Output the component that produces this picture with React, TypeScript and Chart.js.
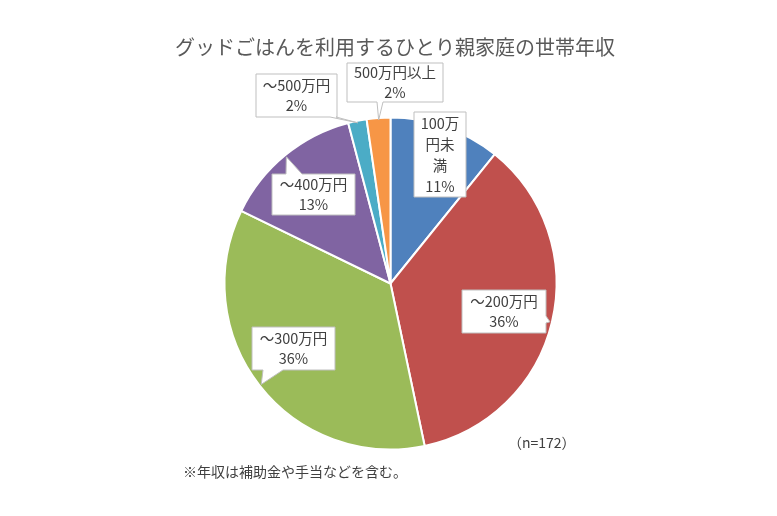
import React, { useEffect, useRef } from "react";
import { Chart, registerables } from "chart.js";

Chart.register(...registerables);

const TITLE = "グッドごはんを利用するひとり親家庭の世帯年収";
const categories = ["100万円未満", "～200万円", "～300万円", "～400万円", "～500万円", "500万円以上"];
const shares = [10.8, 35.9, 35.5, 13.7, 1.8, 2.3];
const pctLabels = ["11%", "36%", "36%", "13%", "2%", "2%"];
const labelLines = [
  ["100万", "円未", "満", pctLabels[0]],
  ["～200万円", pctLabels[1]],
  ["～300万円", pctLabels[2]],
  ["～400万円", pctLabels[3]],
  ["～500万円", pctLabels[4]],
  ["500万円以上", pctLabels[5]],
];
const colors = ["#4F81BD", "#C0504D", "#9BBB59", "#8064A2", "#4BACC6", "#F79646"];
const NOTE_N = "（n=172）";
const FOOTNOTE = "※年収は補助金や手当などを含む。";

// label box layout: centre offset from pie centre, size, wedge side & base offsets along edge
const boxLayout = [
  { dx: 49.5, dy: -129, w: 52, h: 85, side: "none", a: 0, b: 0 },
  { dx: 113.5, dy: 28, w: 84, h: 43, side: "right", a: 26, b: 33 },
  { dx: -97, dy: 65, w: 83, h: 43, side: "bottom", a: 11, b: 31 },
  { dx: -77, dy: -89, w: 83, h: 41, side: "top", a: 14, b: 30 },
  { dx: -94, dy: -188, w: 81, h: 43, side: "bottom", a: 74, b: 80 },
  { dx: 4.5, dy: -201, w: 96, h: 39, side: "bottom", a: 30, b: 36 },
];

const FONT = '"Noto Sans CJK JP", "Noto Sans", sans-serif';

const labelPlugin = {
  id: "customLabels",
  afterDraw(chart: any) {
    const ctx = chart.ctx as CanvasRenderingContext2D;
    const meta = chart.getDatasetMeta(0);
    ctx.save();
    // title
    ctx.fillStyle = "#595959";
    ctx.font = `20px ${FONT}`;
    ctx.textAlign = "center";
    ctx.textBaseline = "middle";
    ctx.fillText(TITLE, 395, 47);

    meta.data.forEach((arc: any, i: number) => {
      const L = boxLayout[i];
      const cx = arc.x + L.dx;
      const cy = arc.y + L.dy;
      const x0 = cx - L.w / 2;
      const y0 = cy - L.h / 2;
      const x1 = x0 + L.w;
      const y1 = y0 + L.h;
      const mid = (arc.startAngle + arc.endAngle) / 2;
      const R = arc.outerRadius - 2;
      const tx = arc.x + Math.cos(mid) * R;
      const ty = arc.y + Math.sin(mid) * R;
      ctx.beginPath();
      ctx.moveTo(x0, y0);
      if (L.side === "top") {
        ctx.lineTo(x0 + L.a, y0);
        ctx.lineTo(tx, ty);
        ctx.lineTo(x0 + L.b, y0);
      }
      ctx.lineTo(x1, y0);
      if (L.side === "right") {
        ctx.lineTo(x1, y0 + L.a);
        ctx.lineTo(tx, ty);
        ctx.lineTo(x1, y0 + L.b);
      }
      ctx.lineTo(x1, y1);
      if (L.side === "bottom") {
        ctx.lineTo(x0 + L.b, y1);
        ctx.lineTo(tx, ty);
        ctx.lineTo(x0 + L.a, y1);
      }
      ctx.lineTo(x0, y1);
      ctx.closePath();
      ctx.fillStyle = "#FFFFFF";
      ctx.fill();
      ctx.strokeStyle = "#BFBFBF";
      ctx.lineWidth = 1;
      ctx.stroke();

      const lines = labelLines[i];
      const lh = lines.length > 2 ? 21 : 19.5;
      ctx.fillStyle = "#404040";
      ctx.font = `14.5px ${FONT}`;
      ctx.textAlign = "center";
      ctx.textBaseline = "middle";
      const startY = cy - ((lines.length - 1) * lh) / 2;
      lines.forEach((t, k) => ctx.fillText(t, cx, startY + k * lh));
    });

    ctx.fillStyle = "#404040";
    ctx.font = `14px ${FONT}`;
    ctx.textAlign = "left";
    ctx.fillText(NOTE_N, 508, 443);
    ctx.font = `14px ${FONT}`;
    ctx.fillText(FOOTNOTE, 183, 472);
    ctx.restore();
  },
};

export default function App() {
  const ref = useRef<HTMLCanvasElement>(null);
  useEffect(() => {
    document.body.style.margin = "0";
    const chart = new Chart(ref.current!, {
      type: "pie",
      data: {
        labels: categories,
        datasets: [
          {
            data: shares,
            backgroundColor: colors,
            borderColor: "#FFFFFF",
            borderWidth: 2,
          },
        ],
      },
      options: {
        responsive: false,
        animation: false,
        layout: { padding: { top: 116.5, bottom: 65.5, left: 223.5, right: 219.5 } },
        plugins: { legend: { display: false }, tooltip: { enabled: false }, title: { display: false } },
      },
      plugins: [labelPlugin],
    });
    return () => chart.destroy();
  }, []);
  return (
    <div style={{ width: 777, height: 516, background: "#fff" }}>
      <canvas ref={ref} width={777} height={516} style={{ display: "block" }} />
    </div>
  );
}
